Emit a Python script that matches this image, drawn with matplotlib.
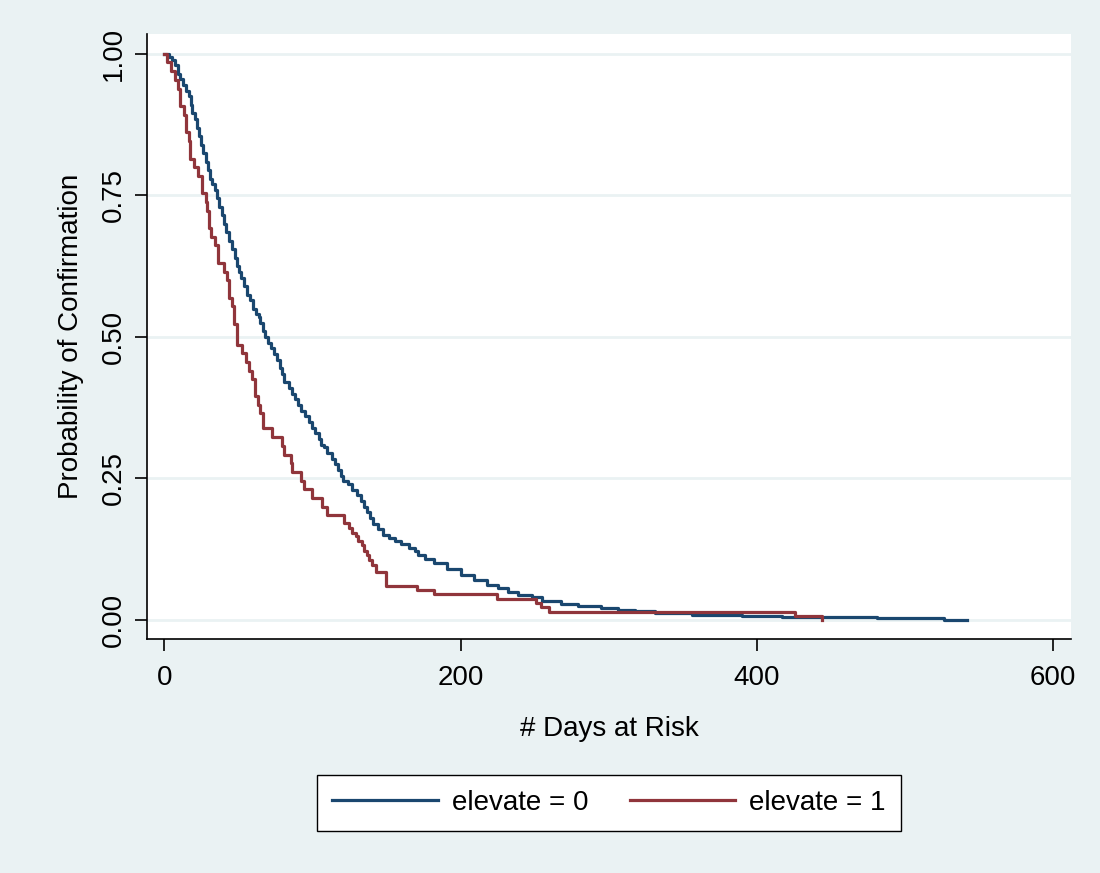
import matplotlib
matplotlib.use("Agg")
import matplotlib.pyplot as plt

# ---- data (Kaplan-Meier step points) ----
t_elev0 = [0, 3, 5, 7, 9, 11, 13, 15, 16.5, 18, 19, 21, 22, 23.5, 25, 26.5, 28,
           29.5, 31, 32.5, 34, 35.5, 37, 39, 40.5, 42, 44, 46, 47.5, 49, 50.5,
           52, 54, 56, 58, 60, 62, 64, 65, 66.5, 68, 70, 72, 74, 76, 78, 79.5,
           81, 84, 86.5, 88.5, 90.5, 92, 95, 97.5, 100, 102, 104.5, 106, 108,
           110, 113, 115, 117, 119, 121, 124, 127, 130, 133, 135, 137, 139, 141,
           144, 148, 152, 156, 160, 165, 169, 171, 176, 182, 191, 200, 209, 218,
           225, 232, 239, 248, 255, 268, 279, 295, 306, 318, 331, 356, 390, 417,
           481, 526.5, 542]
s_elev0 = [1.0, 0.995, 0.99, 0.98, 0.965, 0.955, 0.945, 0.935, 0.925, 0.91,
           0.895, 0.885, 0.87, 0.855, 0.84, 0.825, 0.81, 0.795, 0.78, 0.77,
           0.76, 0.745, 0.73, 0.715, 0.70, 0.685, 0.67, 0.655, 0.64, 0.625,
           0.615, 0.605, 0.59, 0.575, 0.565, 0.55, 0.54, 0.535, 0.525, 0.51,
           0.50, 0.49, 0.48, 0.47, 0.46, 0.445, 0.435, 0.42, 0.41, 0.40, 0.39,
           0.38, 0.37, 0.36, 0.35, 0.34, 0.33, 0.32, 0.31, 0.305, 0.295, 0.285,
           0.275, 0.265, 0.255, 0.245, 0.24, 0.23, 0.22, 0.21, 0.20, 0.19, 0.18,
           0.17, 0.16, 0.15, 0.145, 0.14, 0.135, 0.128, 0.122, 0.115, 0.108,
           0.10, 0.09, 0.08, 0.07, 0.062, 0.056, 0.05, 0.044, 0.04, 0.033,
           0.028, 0.025, 0.021, 0.018, 0.015, 0.012, 0.0095, 0.007, 0.0055,
           0.003, 0.0008, 0.0008]

t_elev1 = [0, 2, 4.5, 7, 9.5, 11, 13.5, 15, 16.5, 17.5, 20, 23, 25.5, 28, 29,
           30, 31.5, 34.5, 36.5, 40.5, 42.5, 43.5, 45.5, 47, 49.2, 52.6, 55,
           57.5, 59.4, 61, 63, 65, 66.5, 72.9, 79.6, 81, 85.3, 86.5, 92.1, 94.3,
           100, 106.8, 110, 121.4, 124.8, 127, 129.3, 130.5, 133.8, 135, 137.2,
           138.4, 140.5, 142.9, 149.6, 170.6, 182.3, 224.8, 251.2, 254.6, 259.8,
           425.6, 443.7]
s_elev1 = [1.0, 0.985, 0.97, 0.954, 0.938, 0.908, 0.892, 0.862, 0.846, 0.815,
           0.80, 0.785, 0.754, 0.738, 0.723, 0.692, 0.677, 0.662, 0.631, 0.615,
           0.60, 0.569, 0.554, 0.523, 0.486, 0.471, 0.455, 0.44, 0.425, 0.395,
           0.38, 0.365, 0.339, 0.324, 0.308, 0.292, 0.277, 0.262, 0.246, 0.231,
           0.215, 0.20, 0.186, 0.171, 0.163, 0.154, 0.148, 0.139, 0.133, 0.121,
           0.115, 0.106, 0.097, 0.085, 0.0606, 0.053, 0.0454, 0.0371, 0.0306,
           0.0224, 0.0147, 0.0076, 0.0]

series_labels = ["elevate = 0", "elevate = 1"]
x_ticks = [0, 200, 400, 600]
y_ticks = [0.0, 0.25, 0.50, 0.75, 1.0]
y_tick_labels = ["0.00", "0.25", "0.50", "0.75", "1.00"]

BG = "#EAF2F3"
NAVY = "#1a476f"
MAROON = "#90353b"
FS = 20

plt.rcParams["font.family"] = ["Liberation Sans", "DejaVu Sans"]

fig = plt.figure(figsize=(11, 8.73), dpi=100, facecolor=BG)
ax = fig.add_axes([147 / 1100, 1 - 639 / 873, (1071 - 147) / 1100, (639 - 34) / 873])
ax.set_facecolor("white")

for yv in y_ticks:
    ax.axhline(yv, color=BG, lw=2.0, zorder=1)

ax.plot(t_elev0, s_elev0, drawstyle="steps-post", color=NAVY, lw=2.3,
        label=series_labels[0], zorder=3)
ax.plot(t_elev1, s_elev1, drawstyle="steps-post", color=MAROON, lw=2.3,
        label=series_labels[1], zorder=3)

ax.set_xlim(-11.6, 612)
ax.set_ylim(-0.0336, 1.0353)

ax.spines["top"].set_visible(False)
ax.spines["right"].set_visible(False)
ax.spines["left"].set_linewidth(1.2)
ax.spines["bottom"].set_linewidth(1.2)

ax.set_xticks(x_ticks)
ax.set_xticklabels([str(v) for v in x_ticks])
ax.set_yticks(y_ticks)
ax.set_yticklabels(y_tick_labels, rotation=90, va="center")
ax.tick_params(axis="both", direction="out", length=8.5, width=1.2,
               labelsize=FS)
ax.tick_params(axis="x", pad=10)
ax.tick_params(axis="y", pad=6)

ax.set_xlabel("# Days at Risk", fontsize=FS, labelpad=18)
ax.set_ylabel("Probability of Confirmation", fontsize=FS, labelpad=12)

leg = fig.legend(loc="center", bbox_to_anchor=(609 / 1100, 1 - 803 / 873),
                 ncol=2, fontsize=FS, frameon=True, fancybox=False,
                 framealpha=1.0, handlelength=3.8, handletextpad=0.5,
                 columnspacing=1.5, borderpad=0.55, borderaxespad=0)
leg.get_frame().set_edgecolor("black")
leg.get_frame().set_linewidth(1.0)
leg.get_frame().set_facecolor("white")
for line in leg.get_lines():
    line.set_linewidth(2.3)

fig.savefig("out.png", dpi=100, facecolor=BG)
